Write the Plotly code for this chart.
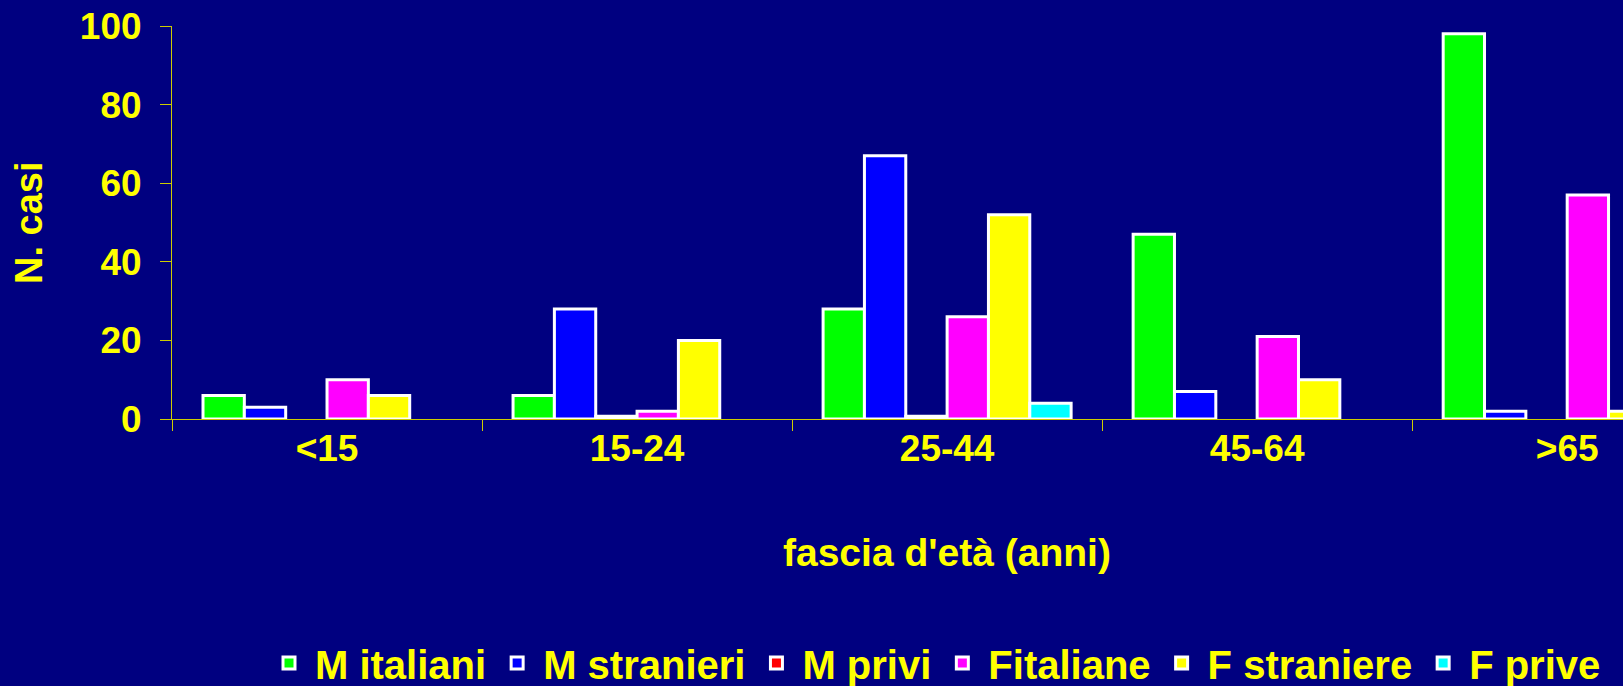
import plotly.graph_objects as go

# data (None = no bar drawn)
categories = ["<15", "15-24", "25-44", "45-64", ">65"]
m_italiani = [6, 6, 28, 47, 98]
m_stranieri = [3, 28, 67, 7, 2]
m_privi = [None, 0.7, 0.7, None, None]
f_italiane = [10, 2, 26, 21, 57]
f_straniere = [6, 20, 52, 10, 2]
f_prive = [None, None, 4, None, None]

series = [
    ("M italiani", m_italiani, "#00ff00"),
    ("M stranieri", m_stranieri, "#0000ff"),
    ("M privi", m_privi, "#ff0000"),
    ("Fitaliane", f_italiane, "#ff00ff"),
    ("F straniere", f_straniere, "#ffff00"),
    ("F prive", f_prive, "#00ffff"),
]

W, H = 1623, 686
L, R, T, B = 172, 0, 26, 267
NAVY = "#000080"
YELLOW = "#ffff00"
AXIS = "#cccc00"
FONT = "Liberation Sans, Arial, sans-serif"


def px_x(p):
    return (p - L) / (W - L - R)


def px_y(p):
    return (H - B - p) / (H - B - T)


fig = go.Figure()
for name, vals, color in series:
    fig.add_trace(go.Bar(
        x=categories, y=vals, name=name,
        marker=dict(color=color, line=dict(color="white", width=3)),
    ))

fig.update_layout(
    width=W, height=H,
    margin=dict(l=L, r=R, t=T, b=B, autoexpand=False),
    paper_bgcolor=NAVY, plot_bgcolor=NAVY,
    barmode="group", bargap=0.2, bargroupgap=0,
    font=dict(family=FONT, color=YELLOW, size=37, weight="bold"),
    showlegend=True,
    legend=dict(
        orientation="h", x=px_x(263), xanchor="left",
        y=px_y(663), yanchor="middle",
        font=dict(family=FONT, size=40, color=YELLOW, weight="bold"),
        bgcolor="rgba(0,0,0,0)", itemwidth=42,
    ),
    xaxis=dict(
        type="category", range=[-0.5, 4.18],
        showline=True, linecolor=AXIS, linewidth=1,
        ticks="outside", tickson="boundaries", ticklen=11, tickcolor=AXIS,
        showgrid=False, zeroline=False,
        tickfont=dict(family=FONT, size=37, color=YELLOW, weight="bold"),
        ticklabelstandoff=-3,
    ),
    yaxis=dict(
        range=[0, 100], tickvals=[0, 20, 40, 60, 80, 100],
        showline=True, linecolor=AXIS, linewidth=1,
        ticks="outside", ticklen=11, tickcolor=AXIS,
        showgrid=False, zeroline=False,
        tickfont=dict(family=FONT, size=37, color=YELLOW, weight="bold"),
        ticklabelstandoff=11,
    ),
    annotations=[
        dict(text="fascia d'età (anni)", xref="paper", yref="paper",
             x=px_x(947), y=px_y(552), xanchor="center", yanchor="middle",
             showarrow=False,
             font=dict(family=FONT, size=39, color=YELLOW, weight="bold")),
        dict(text="N. casi", xref="paper", yref="paper",
             x=px_x(29), y=px_y(223), xanchor="center", yanchor="middle",
             textangle=-90, showarrow=False,
             font=dict(family=FONT, size=38, color=YELLOW, weight="bold")),
    ],
)

fig.write_html(
    "out.html",
    config={"displayModeBar": False},
    post_script="document.body.style.margin='0';"
                "document.body.style.background='#000080';",
)
